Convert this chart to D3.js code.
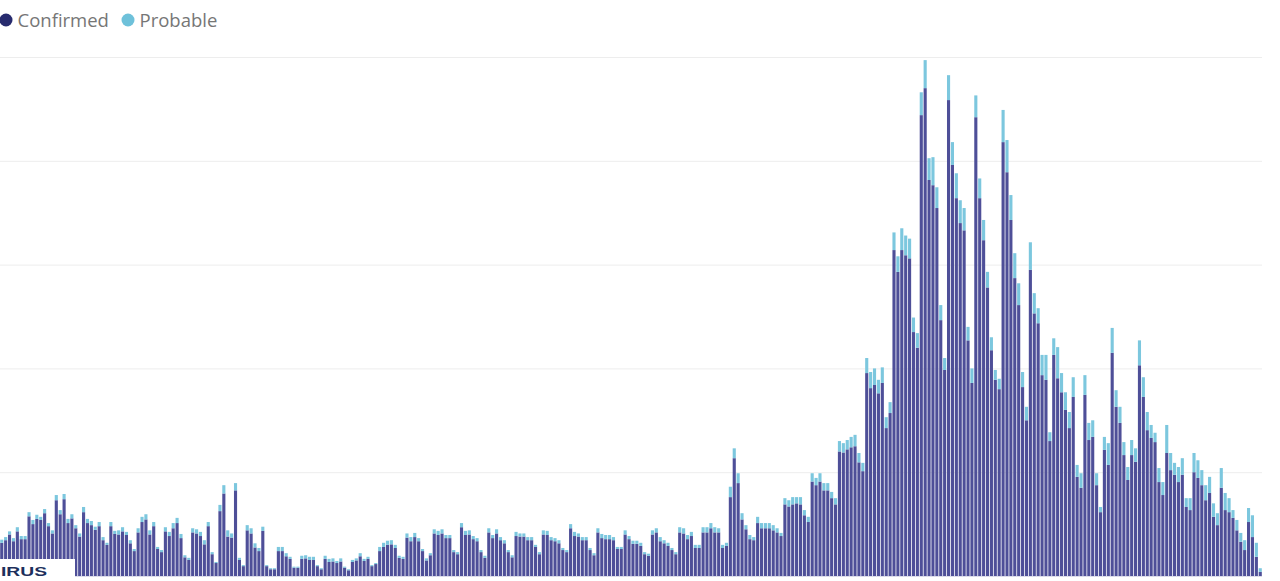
<!DOCTYPE html>
<html>
<head>
<meta charset="utf-8">
<script src="https://cdn.jsdelivr.net/npm/d3@7"></script>
<style>
  html, body { margin: 0; padding: 0; background: #ffffff; }
  svg { display: block; }
</style>
</head>
<body>
<svg id="chart" width="1280" height="581"></svg>
<script>
// ---- data (daily cases) ----
const seriesNames = ["Confirmed", "Probable"];
const seriesColors = ["#4e4f98", "#7cc7de"];
const legendDotColors = ["#272b6e", "#6ec1da"];
const gridValues = [1000, 2000, 3000, 4000, 5000];

const confirmed = [
320,345,400,335,430,355,355,575,500,550,
540,605,480,410,730,595,740,510,555,460,
380,615,510,490,445,480,345,300,480,405,
400,430,395,315,240,420,520,545,400,480,
260,230,430,385,460,510,365,180,155,420,
410,385,305,480,210,125,625,795,380,370,
825,155,95,440,410,275,240,435,95,65,
65,240,240,190,165,80,80,165,170,155,
155,95,65,165,135,140,125,140,80,55,
135,150,190,145,165,95,115,240,280,300,
305,270,175,165,370,335,375,335,240,150,
200,410,395,410,365,365,230,210,470,395,
400,355,335,230,175,420,365,410,345,315,
230,180,385,380,380,345,345,280,210,400,
395,345,335,315,250,230,460,385,380,345,
345,250,200,420,365,355,355,345,260,260,
400,355,310,310,290,210,195,400,420,335,
315,290,250,210,420,410,355,385,270,270,
420,420,460,420,420,270,290,760,1135,895,
545,450,355,345,510,460,460,460,440,420,
385,690,670,690,700,690,585,520,910,875,
910,825,825,750,690,1200,1190,1220,1240,1250,
1095,1010,1955,1810,1840,1760,1860,1425,1570,3140,
2930,3140,3090,3060,2350,2200,4440,4700,3815,3765,
3545,2465,1985,4585,3960,3640,3400,3330,2270,1860,
4420,3640,3235,2780,2175,1890,1800,4180,3890,3430,
2870,2610,1820,1500,2950,2530,2435,1935,1890,1300,
2130,1905,1770,1600,1425,1725,955,850,1745,1310,
1340,875,615,1215,1070,2150,1630,1475,1165,925,
1165,1100,2030,1725,1405,1330,1290,905,780,1185,
1020,975,905,975,665,635,1000,945,875,730,
800,570,490,850,635,615,560,440,330,250,
520,375,185,40
];

const probable = [
30,30,30,30,40,30,30,40,40,40,
30,40,30,30,50,40,50,40,40,30,
30,50,40,40,30,40,30,20,40,30,
40,40,30,30,20,40,50,50,40,40,
20,20,40,40,50,50,40,20,20,40,
40,40,40,40,20,10,60,80,60,40,
70,20,10,50,50,40,30,40,10,10,
10,40,40,30,20,10,10,30,30,30,
30,10,10,30,30,30,20,30,10,10,
20,20,30,20,20,10,10,40,40,40,
40,30,20,20,40,40,40,30,20,20,
20,40,40,40,30,30,20,20,40,40,
40,30,30,20,20,40,30,40,30,30,
20,20,40,30,30,30,30,20,20,40,
40,30,30,30,20,20,40,40,30,30,
30,20,20,40,40,40,40,30,20,20,
40,30,30,30,30,20,20,40,40,40,
30,30,20,20,50,50,40,40,30,30,
50,50,50,50,40,30,30,100,95,95,
60,40,40,30,60,50,50,50,50,40,
30,60,60,70,60,70,50,50,80,70,
80,70,70,60,60,100,90,90,100,110,
90,80,145,155,160,130,150,105,105,170,
150,210,190,190,140,140,220,270,210,270,
200,145,115,240,220,240,220,215,130,140,
210,190,195,150,125,95,100,310,310,240,
240,210,145,130,265,195,145,195,240,85,
160,300,185,170,155,190,115,140,190,165,
160,115,50,125,210,240,160,155,125,125,
145,130,240,190,175,125,90,135,125,270,
165,115,145,160,85,115,185,170,145,145,
155,130,115,190,165,135,75,100,85,95,
135,210,135,35
];

// ---- build table for the stack layout ----
const days = d3.range(confirmed.length);
const table = days.map(i => ({ day: i, Confirmed: confirmed[i], Probable: probable[i] }));

const svg = d3.select("#chart");
const plot = { left: 0, right: 1262, top: 57, bottom: 576 };

const x = d3.scaleBand().domain(days).range([plot.left, plot.right]).paddingInner(0.2).paddingOuter(0.05);
const y = d3.scaleLinear().domain([0, 5000]).range([plot.bottom, plot.top]);

// gridlines
const yAxis = d3.axisLeft(y).tickValues(gridValues).tickSize(-(plot.right - plot.left)).tickFormat("");
const gAxis = svg.append("g").attr("transform", `translate(${plot.left},0)`).call(yAxis);
gAxis.select(".domain").remove();
gAxis.selectAll(".tick line").attr("stroke", "#ededed").attr("stroke-width", 1);

// baseline
svg.append("line")
  .attr("x1", plot.left).attr("x2", plot.right)
  .attr("y1", plot.bottom + 0.5).attr("y2", plot.bottom + 0.5)
  .attr("stroke", "#dcdcea").attr("stroke-width", 1);

// stacked bars
const stack = d3.stack().keys(seriesNames);
const layers = stack(table);
const color = d3.scaleOrdinal().domain(seriesNames).range(seriesColors);

svg.append("g").selectAll("g")
  .data(layers)
  .join("g")
  .attr("fill", d => color(d.key))
  .selectAll("rect")
  .data(d => d)
  .join("rect")
  .attr("x", d => x(d.data.day))
  .attr("width", x.bandwidth())
  .attr("y", d => y(d[1]))
  .attr("height", d => Math.max(0, y(d[0]) - y(d[1])));

// legend
const legend = svg.append("g").attr("font-family", "'Open Sans', 'Noto Sans', sans-serif")
  .attr("font-size", 18.5).attr("fill", "#767676");
const legendX = [6, 128];
seriesNames.forEach((name, i) => {
  legend.append("circle").attr("cx", legendX[i]).attr("cy", 20).attr("r", 6.5).attr("fill", legendDotColors[i]);
  legend.append("text").attr("x", legendX[i] + 11.5).attr("y", 27).text(name);
});

// overlay caption box at bottom-left (TV graphic)
svg.append("rect").attr("x", 0).attr("y", 559).attr("width", 75).attr("height", 22).attr("fill", "#ffffff");
svg.append("text").attr("x", 1).attr("y", 576)
  .attr("font-family", "'Liberation Sans', Arial, sans-serif").attr("font-weight", "bold")
  .attr("font-size", 12).attr("fill", "#1d2f5c")
  .attr("textLength", 46).attr("lengthAdjust", "spacingAndGlyphs")
  .text("IRUS");
</script>
</body>
</html>
